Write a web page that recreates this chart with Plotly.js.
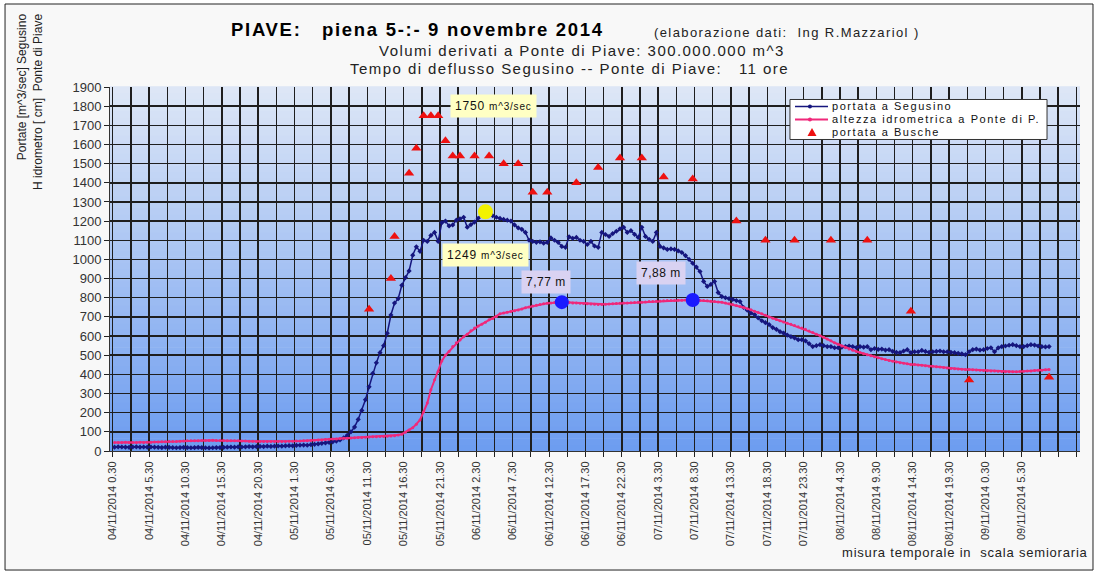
<!DOCTYPE html>
<html><head><meta charset="utf-8">
<script src="https://cdn.plot.ly/plotly-3.0.1.min.js"></script>
<style>html,body{margin:0;padding:0;background:#fff;} #chart{width:1098px;height:573px;}</style>
</head><body><div id="chart"></div>
<script>
// Tick labels (every 10 half-hour slots)
const slotLabels = ["04/11/2014 0.30","04/11/2014 5.30","04/11/2014 10.30","04/11/2014 15.30","04/11/2014 20.30",
"05/11/2014 1.30","05/11/2014 6.30","05/11/2014 11.30","05/11/2014 16.30","05/11/2014 21.30",
"06/11/2014 2.30","06/11/2014 7.30","06/11/2014 12.30","06/11/2014 17.30","06/11/2014 22.30",
"07/11/2014 3.30","07/11/2014 8.30","07/11/2014 13.30","07/11/2014 18.30","07/11/2014 23.30",
"08/11/2014 4.30","08/11/2014 9.30","08/11/2014 14.30","08/11/2014 19.30","09/11/2014 0.30","09/11/2014 5.30"];

// portata a Segusino [m^3/sec], one value per half-hour slot
const segusino = [
20,22,21,20,19,21,22,20,21,20,
21,20,19,18,20,19,18,17,18,19,
18,17,18,19,18,17,16,17,18,18,
19,20,21,20,22,21,22,23,22,23,
24,23,25,24,25,26,25,27,28,27,
29,30,31,30,33,35,37,40,42,45,
48,52,58,68,82,100,125,165,212,268,
335,405,460,513,550,615,710,772,795,865,
905,940,1022,1066,1042,1100,1094,1125,1141,1094,
1192,1200,1175,1180,1205,1212,1220,1168,1182,1195,
1215,1232,1249,1236,1228,1220,1214,1209,1205,1200,
1180,1165,1157,1141,1100,1094,1089,1092,1085,1089,
1112,1100,1089,1068,1063,1118,1110,1115,1100,1094,
1078,1094,1070,1063,1141,1130,1120,1135,1147,1160,
1168,1141,1150,1131,1115,1168,1120,1105,1094,1141,
1068,1060,1052,1055,1052,1045,1036,1020,1000,980,
960,937,885,859,870,885,827,806,800,795,
791,785,780,749,735,720,712,695,680,670,
660,644,635,623,615,605,597,590,581,581,
575,560,545,550,555,550,545,545,539,539,
542,545,548,545,540,545,542,545,529,535,
530,532,527,529,520,515,513,522,529,513,
518,518,525,520,515,518,520,522,518,518,
515,513,510,507,503,518,529,532,527,529,
535,539,518,538,545,548,552,555,550,545,
545,550,555,553,548,545,543,545];

// altezza idrometrica a Ponte di Piave [cm]
const ponteDiPiave = [
45,44,45,46,45,44,45,46,45,46,
46,47,47,48,48,49,50,50,51,52,
53,53,54,54,55,55,55,56,55,55,
55,54,54,53,53,52,52,51,51,50,
50,50,49,50,50,49,50,50,51,51,
52,52,53,54,55,56,57,58,60,61,
62,63,65,66,67,68,69,70,71,72,
73,74,75,76,76,77,78,80,83,88,
98,110,122,140,162,205,250,320,372,415,
470,500,520,545,565,580,596,610,628,642,
652,662,672,685,692,702,716,720,724,728,
732,736,741,748,752,757,761,765,768,771,
773,775,776,777,776,775,773,772,771,770,
768,767,766,765,765,766,767,768,770,771,
772,773,774,775,776,777,778,780,781,782,
783,784,785,786,786,787,787,788,788,788,
787,786,785,784,782,780,778,776,772,768,
765,760,754,749,743,737,730,723,716,708,
700,693,687,680,674,667,661,655,648,642,
635,627,619,610,602,594,584,575,565,557,
548,540,532,526,520,514,508,502,497,492,
487,482,477,473,469,465,461,458,455,452,
451,449,447,445,443,442,440,438,436,433,
430,429,428,427,426,425,424,423,421,420,
419,418,417,416,415,414,414,414,414,415,
416,417,418,420,421,422,424,425];

// portata a Busche [m^3/sec] (slot index, value)
const buscheSlot = [70,76,77,81,83,85,87,89,91,93,95,99,103,107,111,115,119,127,133,139,145,151,159,171,179,187,197,207,219,235,257];
const buscheVal  = [740,900,1120,1450,1580,1750,1750,1750,1620,1540,1540,1540,1540,1500,1500,1350,1350,1400,1480,1530,1530,1430,1420,1200,1100,1100,1100,1100,730,370,385];

const seriesNames = ['portata a Segusino', 'altezza idrometrica a Ponte di P.', 'portata a Busche'];
const seriesColors = ['#16167e', '#f0287a', '#ee1111'];

const peakSlot = 102;   // max Segusino
const mark1Slot = 123;  // 7,77 m
const mark2Slot = 159;  // 7,88 m

(function () {
const slots = segusino.map((_, i) => i);
const slots2 = ponteDiPiave.map((_, i) => i);

const tickvals = [], ticktext = [];
for (let k = 0; k <= 53; k++) {
  tickvals.push(k * 5 - 0.5);
  ticktext.push(k % 2 === 0 && slotLabels[k / 2] ? slotLabels[k / 2] : '');
}

const traces = [
  {x: slots, y: segusino, type: 'scatter', mode: 'lines+markers', name: seriesNames[0],
   line: {color: seriesColors[0], width: 1.5}, marker: {symbol: 'diamond', size: 4, color: seriesColors[0]}},
  {x: slots2, y: ponteDiPiave, type: 'scatter', mode: 'lines+markers', name: seriesNames[1],
   line: {color: seriesColors[1], width: 2}, marker: {symbol: 'circle', size: 3, color: seriesColors[1]}},
  {x: buscheSlot, y: buscheVal, type: 'scatter', mode: 'markers', name: seriesNames[2],
   marker: {symbol: 'triangle-up', size: 9, color: seriesColors[2]}},
  {x: [peakSlot], y: [segusino[peakSlot]], type: 'scatter', mode: 'markers', showlegend: false,
   marker: {size: 15, color: '#f2f200'}},
  {x: [mark1Slot, mark2Slot], y: [ponteDiPiave[mark1Slot], ponteDiPiave[mark2Slot]], type: 'scatter', mode: 'markers', showlegend: false,
   marker: {size: 14, color: '#1a1aff'}}
];

const fmtM = v => (v / 100).toFixed(2).replace('.', ',') + ' m';
const F = 'Arial, "Liberation Sans", sans-serif';
const ls = (px, s) => `<span style="letter-spacing:${px}px">${s}</span>`;

const shapes = [
  {type: 'rect', xref: 'paper', yref: 'paper', x0: -0.1082, x1: 1.0134, y0: -0.327, y1: 1.228,
   fillcolor: '#f8f8f8', line: {color: '#222', width: 1}, layer: 'below'}
];
const N = 60, cBot = [108, 156, 240], cTop = [222, 231, 246];
for (let k = 0; k < N; k++) {
  const t = (k + 0.5) / N;
  const c = cBot.map((b, j) => Math.round(b + (cTop[j] - b) * t));
  shapes.push({type: 'rect', xref: 'paper', yref: 'paper', x0: 0, x1: 1, y0: k / N, y1: (k + 1) / N + 0.002,
    fillcolor: `rgb(${c[0]},${c[1]},${c[2]})`, line: {width: 0}, layer: 'below'});
}

// legend box (drawn by hand to match the compact original)
const legY = [0.9462, 0.9107, 0.8753];
shapes.push({type: 'rect', xref: 'paper', yref: 'paper', x0: 0.7010, x1: 0.9660, y0: 0.8558, y1: 0.9657,
  fillcolor: '#ffffff', line: {color: '#333', width: 1}, layer: 'above'});
[0, 1].forEach(k => {
  shapes.push({type: 'line', xref: 'paper', yref: 'paper', x0: 0.7062, x1: 0.7402, y0: legY[k], y1: legY[k],
    line: {color: seriesColors[k], width: k ? 2 : 1.5}, layer: 'above'});
  shapes.push({type: 'circle', xref: 'paper', yref: 'paper', xsizemode: 'pixel', ysizemode: 'pixel',
    xanchor: 0.7216, yanchor: legY[k], x0: -2, x1: 2, y0: -2, y1: 2,
    fillcolor: seriesColors[k], line: {color: seriesColors[k], width: 0}, layer: 'above'});
});
shapes.push({type: 'path', xref: 'paper', yref: 'paper', xsizemode: 'pixel', ysizemode: 'pixel',
  xanchor: 0.7237, yanchor: legY[2], path: 'M -4.5 -3.5 L 4.5 -3.5 L 0 4.5 Z',
  fillcolor: seriesColors[2], line: {width: 0}, layer: 'above'});

const sp = '\u00A0';
const annotations = [
  {xref: 'paper', yref: 'paper', x: 0.3175, y: 1.1566, xanchor: 'center', yanchor: 'middle', showarrow: false,
   text: '<b>' + ls(1.7, 'PIAVE:' + sp+sp+sp + 'piena 5-:- 9 novembre 2014') + '</b>', font: {family: F, size: 18.5, color: '#000'}},
  {xref: 'paper', yref: 'paper', x: 0.698, y: 1.151, xanchor: 'center', yanchor: 'middle', showarrow: false,
   text: ls(1.4, '(elaborazione dati:' + sp+sp + 'Ing R.Mazzariol )'), font: {family: F, size: 13, color: '#222'}},
  {xref: 'paper', yref: 'paper', x: 0.4866, y: 1.1016, xanchor: 'center', yanchor: 'middle', showarrow: false,
   text: ls(1.45, 'Volumi derivati a Ponte di Piave: 300.000.000 m^3'), font: {family: F, size: 15, color: '#222'}},
  {xref: 'paper', yref: 'paper', x: 0.4732, y: 1.0495, xanchor: 'center', yanchor: 'middle', showarrow: false,
   text: ls(1.45, 'Tempo di deflusso Segusino -- Ponte di Piave:' + sp+sp+sp + '11 ore'), font: {family: F, size: 15, color: '#222'}},
  {xref: 'paper', yref: 'paper', x: -0.0825, y: 1.206, xanchor: 'center', yanchor: 'top', showarrow: false, textangle: -90, align: 'right',
   text: 'Portate [m^3/sec] Segusino<br>H idrometro [ cm]' + sp+sp + 'Ponte di Piave', font: {family: F, size: 12, color: '#222'}},
  {xref: 'paper', yref: 'paper', x: 1.0103, y: -0.280, xanchor: 'right', yanchor: 'middle', showarrow: false,
   text: ls(0.8, 'misura temporale in' + sp+sp + 'scala semioraria'), font: {family: F, size: 13, color: '#222'}},
  {x: 104.1, y: 1801, showarrow: false, bgcolor: '#ffffc4', borderpad: 4,
   text: ls(0.8, Math.max(...buscheVal) + ' ') + '<span style="font-size:10px;letter-spacing:0.8px">m^3/sec</span>', font: {family: F, size: 12, color: '#111'}},
  {x: 101.9, y: 1023, showarrow: false, bgcolor: '#ffffc4', borderpad: 4,
   text: ls(0.8, segusino[peakSlot] + ' ') + '<span style="font-size:10px;letter-spacing:0.8px">m^3/sec</span>', font: {family: F, size: 12, color: '#111'}},
  {x: 118.6, y: 882, showarrow: false, bgcolor: '#d9d2f2', borderpad: 4,
   text: ls(0.5, fmtM(ponteDiPiave[mark1Slot])), font: {family: F, size: 12, color: '#111'}},
  {x: 150.3, y: 929, showarrow: false, bgcolor: '#d9d2f2', borderpad: 4,
   text: ls(0.5, fmtM(ponteDiPiave[mark2Slot])), font: {family: F, size: 12, color: '#111'}},
  // legend text: one block, compact line spacing (line height follows the base size)
  {xref: 'paper', yref: 'paper', x: 0.7423, y: legY[1] + 0.002, xanchor: 'left', yanchor: 'middle', showarrow: false, align: 'left',
   text: seriesNames.map(nm => `<span style="font-size:11px;letter-spacing:1.55px">${nm}</span>`).join('<br>'),
   font: {family: F, size: 9.95, color: '#111'}}
];

const layout = {
  width: 1098, height: 573,
  margin: {l: 110, r: 18, t: 87, b: 122},
  paper_bgcolor: '#ffffff', plot_bgcolor: 'rgba(0,0,0,0)',
  font: {family: F, color: '#222'},
  showlegend: false,
  xaxis: {range: [-1.25, 265.5], tickmode: 'array', tickvals: tickvals, ticktext: ticktext, tickangle: -90,
          tickfont: {family: F, size: 11, color: '#333'}, ticks: 'outside', ticklen: 5, tickcolor: '#222',
          showgrid: true, gridcolor: '#1e1e1e', gridwidth: 1.5, zeroline: false, showline: true, linecolor: '#333', linewidth: 1},
  yaxis: {range: [0, 1900], dtick: 100, tick0: 0, tickfont: {family: F, size: 13, color: '#333'}, ticks: 'outside', ticklen: 5, tickcolor: '#222',
          showgrid: true, gridcolor: '#1e1e1e', gridwidth: 1.5, zeroline: false, showline: true, linecolor: '#333', linewidth: 1},
  shapes: shapes,
  annotations: annotations
};

Plotly.newPlot('chart', traces, layout, {displayModeBar: false, staticPlot: true});
})();
</script>
</body></html>
